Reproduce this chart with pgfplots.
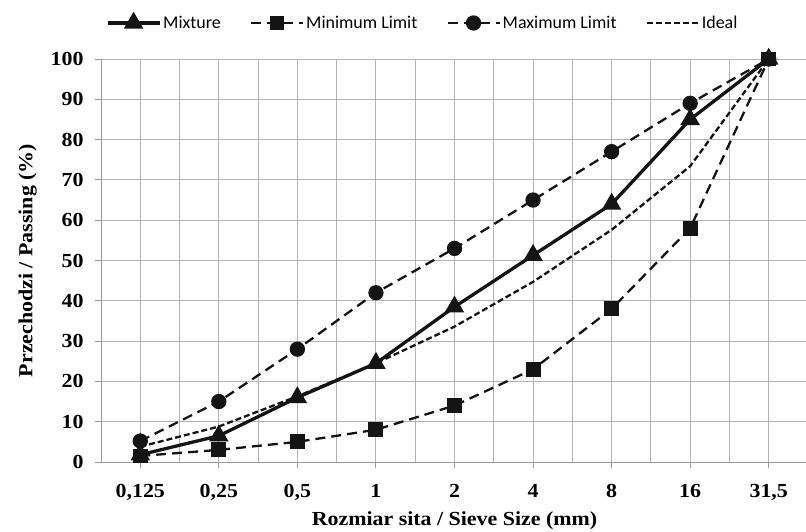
\documentclass[border=0pt]{standalone}
\usepackage{pgfplots}
\pgfplotsset{compat=1.18}
\usepackage{fontspec}
\setmainfont{Liberation Serif}[FakeStretch=1.1]
\newfontfamily\legfont{Carlito}
\definecolor{ink}{HTML}{141414}
\definecolor{gridc}{HTML}{B4B4B4}
\begin{document}
\begin{tikzpicture}
\begin{axis}[
  width=707bp, height=403bp, scale only axis,
  xmin=-0.5, xmax=8.5, ymin=0, ymax=100,
  xtick={0,...,8},
  xticklabels={{0,125},{0,25},{0,5},1,2,4,8,16,{31,5}},
  minor xtick={-0.5,0.5,...,8.5},
  ytick={0,10,...,100},
  grid=both,
  major grid style={gridc, line width=0.9pt},
  minor grid style={gridc, line width=0.9pt},
  axis x line*=bottom, axis y line*=left,
  axis line style={gray!80, line width=0.9pt, -},
  tick align=outside,
  major tick length=6bp,
  minor tick length=0bp,
  tick style={gray!80, line width=0.9pt},
  minor x tick style={draw=none},
  /pgf/number format/assume math mode=true,
  ticklabel style={font=\bfseries\fontsize{20}{20}\selectfont},
  xticklabel style={yshift=-13bp},
  yticklabel style={xshift=-8bp},
  label style={font=\bfseries\fontsize{20}{20}\selectfont},
  xlabel={Rozmiar sita / Sieve Size (mm)},
  ylabel={Przechodzi / Passing (\%)},
  xlabel shift=4bp,
  ylabel shift=7bp,
  legend style={at={(0.455,1)}, anchor=center, yshift=36bp, draw=none, fill=none,
    font=\legfont\fontsize{18}{18}\selectfont, legend columns=4,
    nodes={inner xsep=2bp},
    /tikz/every even column/.append style={column sep=27bp}},
  legend cell align=left,
  legend image code/.code={\draw[mark repeat=2,mark phase=2] plot coordinates {(0bp,0bp) (26bp,0bp) (52bp,0bp)};},
]
\coordinate (bl) at (rel axis cs:0,0);
\coordinate (tr) at (rel axis cs:1,1);
\addplot[ink, line width=3.3bp, mark=triangle*, mark size=8bp, mark options={solid}]
  coordinates {(0,1.8) (1,6.5) (2,16) (3,24.5) (4,38.5) (5,51.3) (6,64) (7,85) (8,100)};
\addlegendentry{Mixture}
\addplot[ink, line width=2.3bp, dash pattern=on 10bp off 6bp, mark=square*, mark size=6.3bp, mark options={solid}]
  coordinates {(0,1.5) (1,3) (2,5) (3,8) (4,14) (5,23) (6,38) (7,58) (8,100)};
\addlegendentry{Minimum Limit}
\addplot[ink, line width=2.3bp, dash pattern=on 10bp off 6bp, mark=*, mark size=6.5bp, mark options={solid}]
  coordinates {(0,5.2) (1,15) (2,28) (3,42) (4,53) (5,65) (6,77) (7,89) (8,100)};
\addlegendentry{Maximum Limit}
\addplot[ink, line width=2.3bp, dash pattern=on 6bp off 3bp]
  coordinates {(0,3.8) (1,8.8) (2,16.3) (3,24.5) (4,33.6) (5,44.7) (6,57.6) (7,73.4) (8,100)};
\addlegendentry{Ideal}
\end{axis}
\pgfresetboundingbox
\path ([shift={(-101bp,-70bp)}]bl) rectangle ([shift={(-2bp,59bp)}]tr);
\end{tikzpicture}
\end{document}
